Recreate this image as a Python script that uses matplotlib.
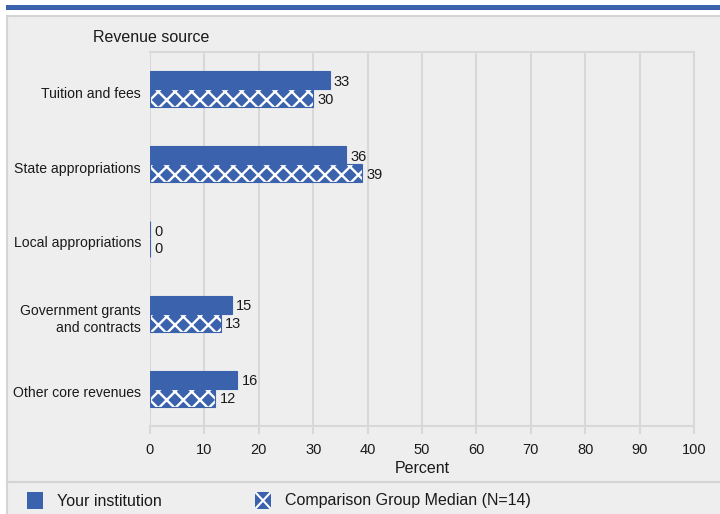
import matplotlib.pyplot as plt
import matplotlib.transforms as mtransforms
from matplotlib.patches import Rectangle
from matplotlib.lines import Line2D

plt.rcParams['font.family'] = ['Liberation Sans', 'DejaVu Sans']
plt.rcParams['hatch.linewidth'] = 1.7

categories = ['Tuition and fees', 'State appropriations', 'Local appropriations',
              'Government grants\nand contracts', 'Other core revenues']
your_inst = [33, 36, 0, 15, 16]
comparison = [30, 39, 0, 13, 12]
x_ticks = [0, 10, 20, 30, 40, 50, 60, 70, 80, 90, 100]

blue = '#3b62ad'
grid_col = '#d8d8d8'
bg = '#eeeeee'
txt = '#1a1a1a'

W, H = 720, 514
fig = plt.figure(figsize=(W / 100, H / 100), dpi=100)
fig.patch.set_facecolor('white')


def px(x0, y0, w, h, **kw):
    # rectangle in pixel coordinates measured from the top-left corner
    r = Rectangle((x0 / W, 1 - (y0 + h) / H), w / W, h / H,
                  transform=fig.transFigure, **kw)
    fig.add_artist(r)
    return r


def hline(x0, x1, y, **kw):
    fig.add_artist(Line2D([x0 / W, x1 / W], [1 - y / H, 1 - y / H], transform=fig.transFigure, **kw))


# page frame: blue band, panel background, borders
px(6, 5, W - 6, 5, facecolor=blue, edgecolor='none', zorder=-2)
px(7, 16, W - 7, H - 16, facecolor=bg, edgecolor='none', zorder=-2)
hline(7, W, 16, color='#d4d4d4', lw=1.5, zorder=-1)
hline(7, W, 482, color='#d4d4d4', lw=1.5, zorder=-1)
fig.add_artist(Line2D([7 / W, 7 / W], [0, 1 - 16 / H], color='#d4d4d4', lw=1.5,
                      transform=fig.transFigure, zorder=-1))

ax = fig.add_axes([150 / W, (H - 426) / H, 544 / W, 374 / H])
ax.set_facecolor(bg)
ax.set_zorder(2)

n = len(categories)
ypos = list(range(n))
h = 0.24
y_your = [y - h / 2 for y in ypos]
y_comp = [y + h / 2 for y in ypos]

ax.barh(y_your, your_inst, height=h, color=blue, linewidth=0, zorder=3)
ax.barh(y_comp, comparison, height=h, color=blue, edgecolor='white',
        hatch='xx', linewidth=0, zorder=3)
# thin outline so zero values still show as a sliver
ax.barh(y_your, your_inst, height=h, fill=False, edgecolor=blue, linewidth=0.8, zorder=4)
ax.barh(y_comp, comparison, height=h, fill=False, edgecolor=blue, linewidth=0.8, zorder=4)

for y, v in zip(y_your, your_inst):
    ax.text(v + 0.8, y + 0.02, str(v), va='center', ha='left', fontsize=10.5, color=txt, zorder=5)
for y, v in zip(y_comp, comparison):
    ax.text(v + 0.8, y + 0.02, str(v), va='center', ha='left', fontsize=10.5, color=txt, zorder=5)

ax.set_xlim(0, 100)
ax.set_ylim(n - 0.5, -0.5)
ax.set_xticks(x_ticks)
ax.set_xticklabels([str(t) for t in x_ticks], fontsize=10.5, color=txt)
ax.set_yticks(ypos)
ax.set_yticklabels(categories, fontsize=10.1, color=txt)
ax.tick_params(axis='y', length=0, pad=6.5)
ax.tick_params(axis='x', length=6, width=1.5, color=grid_col, pad=6)
# nudge category labels slightly downward
shift = mtransforms.ScaledTranslation(0, -3 / 100, fig.dpi_scale_trans)
for lbl in ax.get_yticklabels():
    lbl.set_transform(lbl.get_transform() + shift)
ax.xaxis.grid(True, color=grid_col, linewidth=1.5, zorder=0)
for s in ax.spines.values():
    s.set_color(grid_col)
    s.set_linewidth(1.5)
ax.spines['left'].set_visible(False)
ax.set_xlabel('Percent', fontsize=11.5, color=txt, labelpad=3)

fig.text(93 / W, 1 - 37 / H, 'Revenue source', fontsize=11.5, color=txt, va='center', ha='left')

# legend
px(27, 492, 16, 17, facecolor=blue, edgecolor='none')
fig.text(57 / W, 1 - 501 / H, 'Your institution', fontsize=11.5, color=txt, va='center', ha='left')
px(255, 492, 16, 17, facecolor=blue, edgecolor='none')
for xs, ys in [([256, 270], [493, 508]), ([256, 270], [508, 493])]:
    fig.add_artist(Line2D([x / W for x in xs], [1 - y / H for y in ys], color='white',
                          lw=1.5, transform=fig.transFigure))
fig.text(285 / W, 1 - 501 / H, 'Comparison Group Median (N=14)', fontsize=11.5, color=txt,
         va='center', ha='left')

fig.savefig('out.png', dpi=100)
